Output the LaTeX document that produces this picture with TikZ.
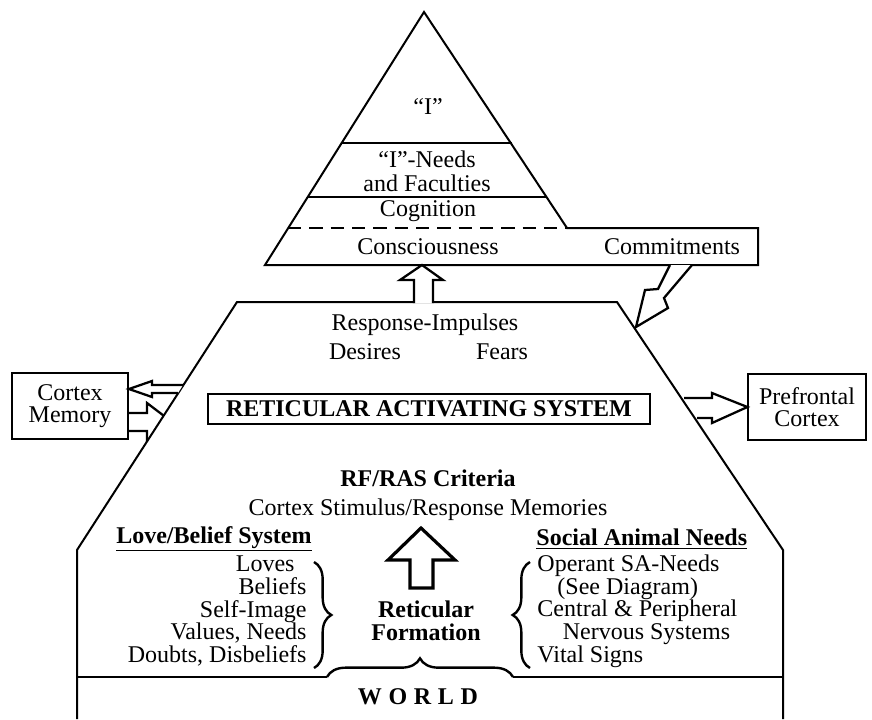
\documentclass[tikz,border=0pt]{standalone}
\usepackage{fontspec}
\setmainfont{Liberation Serif}
\usetikzlibrary{positioning,decorations.pathreplacing}

\begin{document}
\begin{tikzpicture}[x=0.75pt,y=-0.75pt,line width=1.5pt,
every node/.style={font=\fontsize{18}{17}\selectfont, align=center},
boxnode/.style={rectangle, draw=black, line width=1.4pt},
boldtext/.style={font=\fontsize{18}{17}\selectfont\bfseries},
hollow/.style={draw=black, fill=white, line width=1.7pt, line join=miter},
curly/.style={decorate, decoration={brace, amplitude=#1}, line width=1.8pt},
]
\useasboundingbox (0,0) rectangle (872,719);

%Shapes
\draw[hollow] (127,413) -- (147,413) -- (147,403) -- (172,422) -- (147,441) -- (147,431) -- (127,431);
\draw[fill=white] (77,719) -- (77,550) -- (237,302) -- (617,302) -- (783,550) -- (783,719);
\draw (77,677) -- (327,677);
\draw (513,677) -- (783,677);
\draw[curly=14pt] (327,677) -- (513,677);
\draw[curly=13pt] (314,562) -- (314,668);
\draw[curly=13pt] (530,668) -- (530,562);

\draw[fill=white] (424,12) -- (567,228) -- (758,228) -- (758,265) -- (265,265) -- cycle;
\draw (341,143) -- (512,143);
\draw (308,197) -- (547,197);
\draw[dash pattern=on 10pt off 6pt] (288,228) -- (567,228);

%Nodes
\node (I) at (428,107) {``I''};
\node (I Needs) at (427,171) {``I''-Needs\\[1pt]and Faculties};
\node (Cognition) at (428,211) {Cognition};
\node (Consciousness) at (428,247) {Consciousness};
\node (Commitments) at (672,247) {Commitments};
\node (Response) at (425,325) {Response-Impulses};
\node (Desires) at (365,352) {Desires};
\node (Fears) at (502,352) {Fears};
\node[boxnode, fill=white, minimum width=331pt, minimum height=22pt, inner sep=0pt, boldtext] (RAS) at (429,409) {RETICULAR ACTIVATING SYSTEM};
\node[boxnode, minimum width=87pt, minimum height=50pt] (Cortex Memory) at (70,406) {Cortex\\Memory};
\node[boxnode, minimum width=88pt, minimum height=49pt] (Prefrontal) at (807,407) {Prefrontal\\Cortex};
\node[boldtext] (Criteria) at (428,478) {RF/RAS Criteria};
\node (Memories) at (428,510) {Cortex Stimulus/Response Memories};
\node[boldtext, anchor=east] (Love Belief) at (317,539) {\underline{Love/Belief System}};
\node[anchor=east, align=right] (Love List) at (312,611) {Loves\hspace*{9pt}\\Beliefs\hspace*{4pt}\\Self-Image\hspace*{7pt}\\Values, Needs\hspace*{4pt}\\Doubts, Disbeliefs};
\node[boldtext, anchor=west] (Social Needs) at (531,539) {\underline{Social Animal Needs}};
\node[anchor=west, align=left] (Social List) at (532,611) {Operant SA-Needs\\\hspace*{15pt}(See Diagram)\\Central \& Peripheral\\\hspace*{19pt}Nervous Systems\\Vital Signs};
\node[boldtext] (Formation) at (426,621) {Reticular\\Formation};
\node[boldtext] (World) at (418,697) {W\hspace{5pt}O\hspace{5pt}R\hspace{5pt}L\hspace{5pt}D};

%Arrows
\draw[hollow] (414,303) -- (414,280) -- (400,280) -- (422,265) -- (443,280) -- (433,280) -- (433,303);
\draw[white, line width=2pt] (416,302) -- (431,302);
\draw[hollow, line width=2.4pt] (410,588) -- (410,560) -- (388,560) -- (421,528) -- (455,560) -- (433,560) -- (433,588) -- cycle;
\draw[hollow] (670,265) -- (658,289) -- (645,290) -- (636,327) -- (668,308) -- (664,298) -- (692,265);
\draw[hollow] (684,398) -- (712,398) -- (712,393) -- (Prefrontal.west) -- (712,423) -- (712,418) -- (697,418);
\draw[hollow] (183,385) -- (152,385) -- (152,381) -- (Cortex Memory.east |- 0,389) -- (152,397) -- (152,393) -- (178,393);

\end{tikzpicture}
\end{document}
